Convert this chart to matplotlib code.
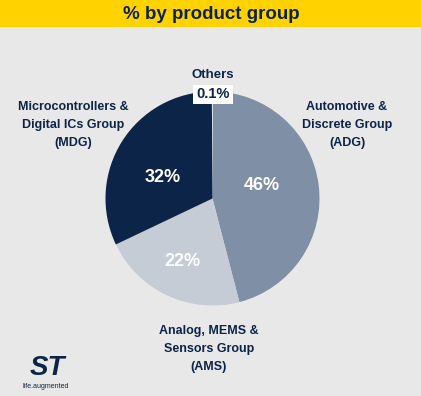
import matplotlib.pyplot as plt
from matplotlib.patches import Rectangle

W, H = 421, 396

groups = ['ADG', 'AMS', 'MDG', 'Others']
shares = [46, 22, 32, 0.1]
pct_labels = ['46%', '22%', '32%', '0.1%']
names = ['Automotive &\nDiscrete Group\n(ADG)',
         'Analog, MEMS &\nSensors Group\n(AMS)',
         'Microcontrollers &\nDigital ICs Group\n(MDG)',
         'Others']
colors = ['#7f8fa6', '#c5ccd6', '#0c2447', '#ffffff']

navy = '#0c2447'
bg = '#e8e8e8'
yellow = '#ffd200'

plt.rcParams['font.family'] = ['Liberation Sans', 'DejaVu Sans']

fig = plt.figure(figsize=(W / 100, H / 100), dpi=100)
fig.patch.set_facecolor(bg)
ax = fig.add_axes([0, 0, 1, 1])

def Y(y):
    # pixel row from top -> data y
    return H - y

# header bar
ax.add_patch(Rectangle((0, Y(27)), W, 27, color=yellow, lw=0))
ax.text(W / 2 + 1, Y(14.5), '% by product group', ha='center', va='center',
        fontsize=13.5, fontweight='bold', color=navy)

cx, cy, r = 212.5, Y(198.5), 107
ax.pie(shares, colors=colors, startangle=90, counterclock=False,
       center=(cx, cy), radius=r, wedgeprops=dict(lw=0), frame=True)
ax.set_xlim(0, W)
ax.set_ylim(0, H)
ax.set_aspect('equal')
ax.axis('off')

# percentages inside slices
pct_pos = {'ADG': (262, 186), 'AMS': (182, 262), 'MDG': (163, 177)}
for g, p in zip(groups, pct_labels):
    if g in pct_pos:
        x, y = pct_pos[g]
        ax.text(x, Y(y), p, ha='center', va='center', fontsize=13,
                fontweight='bold', color='white')

# group names
name_pos = {'ADG': (347, 125), 'AMS': (209, 349), 'MDG': (73.5, 125)}
for g, n in zip(groups, names):
    if g in name_pos:
        x, y = name_pos[g]
        ax.text(x, Y(y), n, ha='center', va='center', fontsize=9,
                fontweight='bold', color=navy, linespacing=1.72)

ax.text(212.5, Y(74.5), names[3], ha='center', va='center', fontsize=9.5,
        fontweight='bold', color=navy)
ax.text(213, Y(94.5), pct_labels[3], ha='center', va='center', fontsize=10.5,
        fontweight='bold', color=navy,
        bbox=dict(boxstyle='square,pad=0.2', fc='white', ec='none'))

# logo
ax.text(47, Y(368), 'ST', ha='center', va='center', fontsize=20,
        fontweight='bold', style='italic', color=navy)
ax.text(46, Y(387), 'life.augmented', ha='center', va='center', fontsize=5,
        color=navy)

fig.savefig('out.png', dpi=100, facecolor=bg)
